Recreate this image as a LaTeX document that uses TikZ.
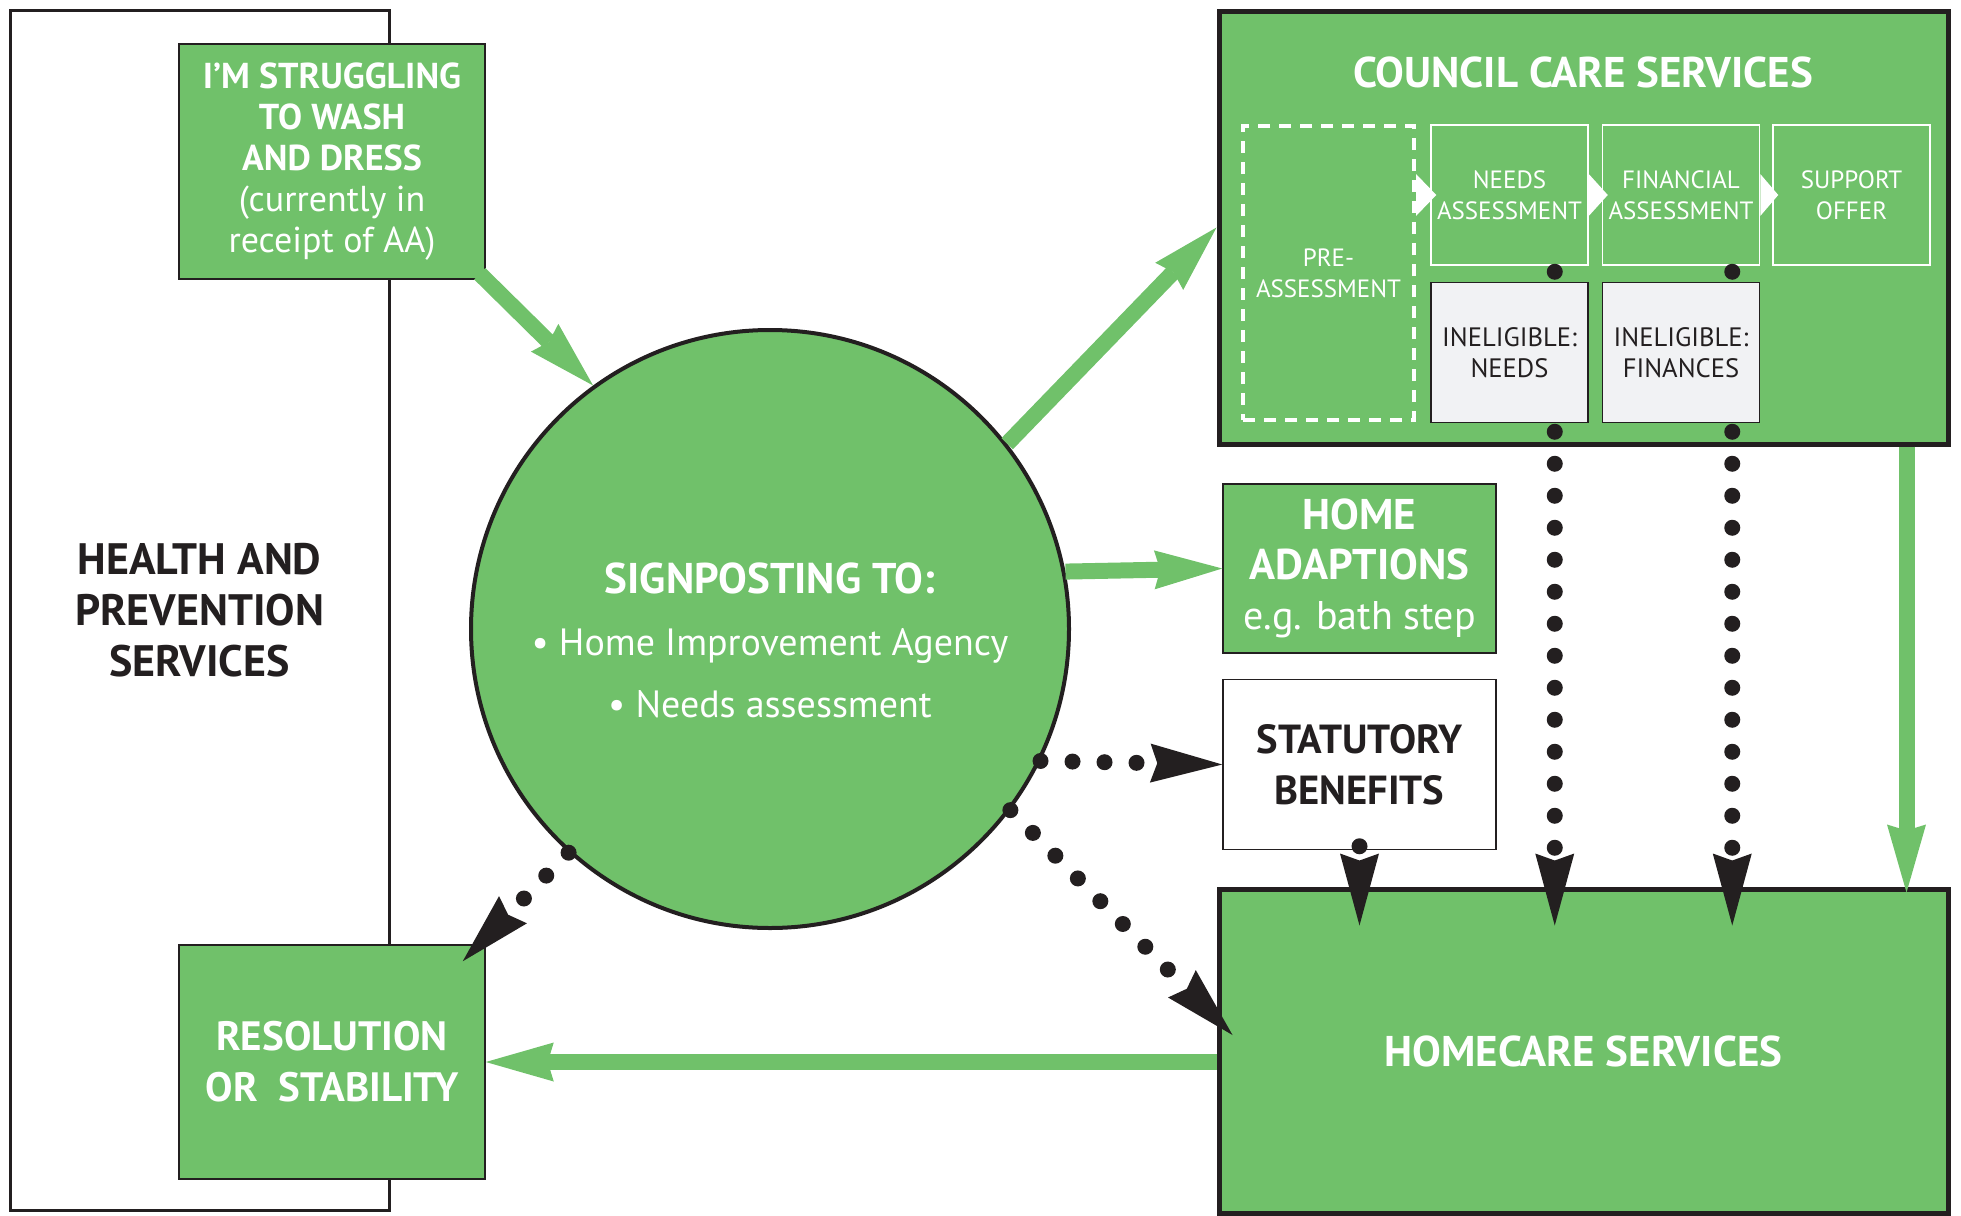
\documentclass[tikz,border=0pt]{standalone}
\usepackage{fontspec}
\setmainfont{PT Sans}
\usepackage{tikz}
\usetikzlibrary{arrows.meta}
\usetikzlibrary{calc}
\usetikzlibrary{positioning}

\definecolor{caregreen}{RGB}{112,193,106}
\definecolor{inkblack}{RGB}{35,31,32}
\definecolor{palegrey}{RGB}{241,242,244}

\begin{document}
\begin{tikzpicture}[x=0.5pt,y=-0.5pt,
    greenbox/.style={draw=inkblack,line width=0.75pt,fill=caregreen,text=white,align=center,inner sep=0pt},
    plainbox/.style={draw=inkblack,line width=0.75pt,fill=white,text=inkblack,align=center,inner sep=0pt},
    stagebox/.style={draw=white,line width=0.75pt,text=white,align=center,inner sep=0pt,minimum width=78.5pt,minimum height=70pt,font=\fontsize{12.5}{15.5}\selectfont},
    ineligbox/.style={draw=inkblack,line width=0.75pt,fill=palegrey,text=inkblack,align=center,inner sep=0pt,minimum width=78.5pt,minimum height=70pt,font=\fontsize{13.3}{15.5}\selectfont},
    bigbox/.style={draw=inkblack,line width=2.5pt,fill=caregreen,text=white,inner sep=0pt,minimum width=364.5pt},
    greenarrow/.style={draw=caregreen,line width=8pt,-{Stealth[length=34pt,width=19.5pt,inset=3pt,line width=0pt]}},
    dotarrow/.style={draw=inkblack,line width=8pt,line cap=round,dash pattern=on 0pt off 16pt,-{Stealth[length=36pt,width=19.5pt,inset=3.5pt,line width=0pt]}}]

  \useasboundingbox (0,0) rectangle (1961,1216);

  \node [plainbox,line width=1.5pt,minimum width=189.5pt,minimum height=600pt,font=\bfseries\fontsize{22}{25.5}\selectfont] (health) at (199.5,610)
    {HEALTH AND\\PREVENTION\\SERVICES};

  \node [greenbox,minimum width=153pt,minimum height=117.5pt,font=\fontsize{18}{20.5}\selectfont] (struggle) at (332,161.5)
    {\textbf{I’M STRUGGLING}\\\textbf{TO WASH}\\\textbf{AND DRESS}\\(currently in\\receipt of AA)};
  \node [greenbox,minimum width=153pt,minimum height=117pt,font=\bfseries\fontsize{20.5}{25.5}\selectfont] (resolution) at (332,1062)
    {RESOLUTION\\OR~ STABILITY};

  \node [circle,draw=inkblack,line width=2pt,fill=caregreen,inner sep=0pt,minimum size=299pt] (signpost) at (770,629) {};
  \node [text=white,align=center,font=\fontsize{19}{31}\selectfont] (signposttext) at ($(signpost.center)+(0pt,-5.5pt)$)
    {\textbf{\fontsize{21.5}{31}\selectfont SIGNPOSTING TO:}\\\textbullet\ Home Improvement Agency\\\textbullet\ Needs assessment};

  \node [bigbox,minimum height=216.5pt] (council) at (1583.5,227.5) {};
  \node [text=white,font=\bfseries\fontsize{21.5}{24}\selectfont] (counciltitle) at (1583,72) {COUNCIL CARE SERVICES};

  \node [stagebox,draw=white,line width=2pt,dash pattern=on 6pt off 4.5pt,minimum width=85.5pt,minimum height=147pt] (pre) at (1328.5,273) {PRE-\\ASSESSMENT};
  \node [stagebox] (needs) at (1509.5,195) {NEEDS\\ASSESSMENT};
  \node [stagebox,right=6.5pt of needs] (fin) {FINANCIAL\\ASSESSMENT};
  \node [stagebox,right=6pt of fin] (support) {SUPPORT\\OFFER};

  \foreach \a/\b in {pre/needs,needs/fin,fin/support}
    \fill [white] ($(\a.east |- \b.west)+(0pt,10.5pt)$) -- ($(\b.west)+(3pt,0pt)$) -- ($(\a.east |- \b.west)+(0pt,-10.5pt)$) -- cycle;

  \node [greenbox,minimum width=136.5pt,minimum height=84.5pt,font=\fontsize{20}{25}\selectfont] (adapt) at (1359.5,568.5)
    {\textbf{\fontsize{21.5}{25}\selectfont HOME}\\\textbf{\fontsize{21.5}{25}\selectfont ADAPTIONS}\\e.g. bath step};
  \node [plainbox,below=12.5pt of adapt,minimum width=136.5pt,minimum height=85pt,font=\bfseries\fontsize{20.3}{25.5}\selectfont] (statutory)
    {STATUTORY\\BENEFITS};

  \node [bigbox,minimum height=162pt,font=\bfseries\fontsize{21.5}{24}\selectfont] (homecare) at (1583.5,1051) {HOMECARE SERVICES};

  \coordinate (needsdrop) at ($(needs.south east)+(-17pt,-3pt)$);
  \coordinate (findrop) at ($(fin.south east)+(-14pt,-3pt)$);
  \draw [dotarrow] (needsdrop) -- ($(needsdrop |- homecare.north)+(0pt,-19.5pt)$);
  \draw [dotarrow] (findrop) -- ($(findrop |- homecare.north)+(0pt,-19.5pt)$);

  \node [ineligbox,below=8pt of needs] (inelneeds) {INELIGIBLE:\\NEEDS};
  \node [ineligbox,below=8pt of fin] (inelfin) {INELIGIBLE:\\FINANCES};

  \coordinate (carelink) at ($(council.south east)+(-22pt,0pt)$);
  \draw [greenarrow] (carelink) -- ($(carelink |- homecare.north)+(0pt,-3pt)$);

  \draw [greenarrow] ($(struggle.south east)+(-3pt,3pt)$) -- (signpost.126);
  \draw [greenarrow] (signpost.38) -- (council.west);
  \draw [greenarrow] (signpost.11.6) -- (adapt.west);
  \draw [greenarrow] (homecare.west |- resolution.east) -- (resolution.east);

  \draw [dotarrow] (signpost.-26.6) -- (statutory.west);
  \draw [dotarrow] (signpost.-37.3) -- ($(homecare.west)+(8pt,8pt)$);
  \draw [dotarrow] (signpost.228.5) -- ($(resolution.north east)+(-11.5pt,-8.5pt)$);
  \draw [dotarrow] ($(statutory.south)+(0pt,2pt)$) -- ($(statutory.south |- homecare.north)+(0pt,-19.5pt)$);

\end{tikzpicture}
\end{document}
